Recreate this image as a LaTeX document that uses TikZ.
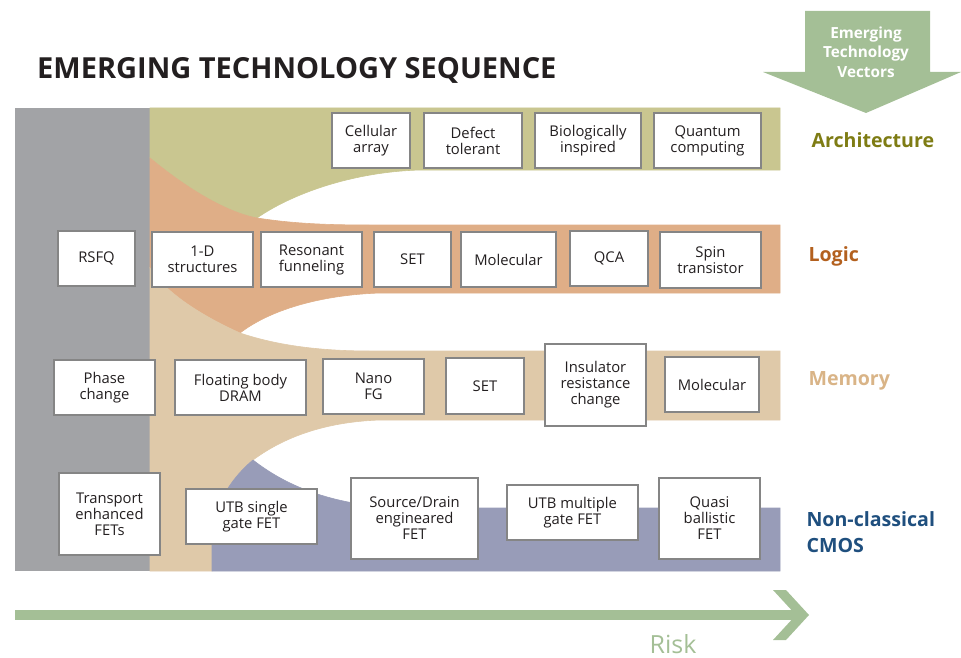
\documentclass[tikz,border=0pt]{standalone}
\usepackage{fontspec}
\setmainfont{Open Sans}
\definecolor{graybl}{HTML}{A2A3A6}
\definecolor{olivebd}{HTML}{C9C690}
\definecolor{orangebd}{HTML}{DFAE87}
\definecolor{tanbd}{HTML}{DFC9A9}
\definecolor{bluebd}{HTML}{989CB8}
\definecolor{greenar}{HTML}{A4BF96}
\definecolor{boxgray}{HTML}{858585}
\definecolor{textdark}{HTML}{231F20}
\definecolor{archc}{HTML}{7E7C14}
\definecolor{logicc}{HTML}{B3601E}
\definecolor{memc}{HTML}{D9B487}
\definecolor{cmosc}{HTML}{1F4F7E}
\begin{document}
\begin{tikzpicture}[x=1pt,y=-1pt,
  box/.style={draw=boxgray, line width=1.1pt, fill=white, inner sep=0pt, align=center,
    font=\fontsize{14.8}{16}\selectfont, text=textdark},
  bandfill/.style={line width=0.6pt},
  lbl/.style={font=\bfseries\fontsize{19.6}{26}\selectfont, anchor=west, align=left}]
\useasboundingbox (0,0) rectangle (961,658);
% title
\node[anchor=base west, inner sep=0pt, text=textdark, font=\bfseries\fontsize{29}{32}\selectfont] (title) at (37,79) {EMERGING TECHNOLOGY SEQUENCE};
% gray column
\fill[graybl] (15,108) rectangle (150,571);
% olive band
\path[fill=olivebd, draw=olivebd, bandfill] (150,108) -- (780,108) -- (780,170) -- (420,170)
  .. controls (350,172) and (290,195) .. (257,218)
  .. controls (225,212) and (185,187) .. (150,158) -- cycle;
% orange band
\path[fill=orangebd, draw=orangebd, bandfill] (150,158) .. controls (185,187) and (225,212) .. (257,218)
  .. controls (290,223) and (320,225) .. (370,225) -- (780,225) -- (780,293) -- (380,293)
  .. controls (320,295) and (270,310) .. (240,333)
  .. controls (200,315) and (165,292) .. (150,268) -- cycle;
% tan band
\path[fill=tanbd, draw=tanbd, bandfill] (150,268) .. controls (165,292) and (200,315) .. (240,333)
  .. controls (270,343) and (310,351) .. (370,351) -- (780,351) -- (780,420) -- (380,420)
  .. controls (320,422) and (280,440) .. (253,460)
  .. controls (235,475) and (215,500) .. (212,535) -- (212,571) -- (150,571) -- cycle;
% blue band
\path[fill=bluebd, draw=bluebd, bandfill] (212,571) -- (212,535)
  .. controls (215,500) and (235,475) .. (253,460)
  .. controls (285,485) and (330,505) .. (400,508) -- (780,508) -- (780,571) -- cycle;
% top-right arrow
\fill[greenar] (805,11) -- (930,11) -- (930,72) -- (961,72) -- (866,113) -- (763,72) -- (805,72) -- cycle;
\node[text=white, align=center, inner sep=0pt, font=\bfseries\fontsize{15.3}{19.5}\selectfont] (vec) at (866,52) {Emerging\\Technology\\Vectors};
% bottom risk arrow
\fill[greenar] (15,610) rectangle (797,620);
\fill[greenar] (773,590) -- (786,590) -- (809,615) -- (786,640) -- (773,640) -- (796,615) -- cycle;
\node[text=greenar, inner sep=0pt, font=\fontsize{25}{28}\selectfont] (risk) at (673,644) {Risk};
% labels
\node[lbl, text=archc] (larch) at (808,140) {Architecture};
\node[lbl, text=logicc] (llogic) at (805,256) {Logic};
\node[lbl, text=memc] (lmem) at (805,381) {Memory};
\node[lbl, text=cmosc] (lcmos) at (803,532) {Non-classical\\CMOS};
% architecture row
\node[box, minimum width=78pt, minimum height=55pt] (a1) at (371,140.5) {Cellular\\array};
\node[box, minimum width=98pt, minimum height=55pt] (a2) at (473,140.5) {Defect\\tolerant};
\node[box, minimum width=106pt, minimum height=55pt] (a3) at (588,140.5) {Biologically\\inspired};
\node[box, minimum width=107pt, minimum height=55pt] (a4) at (707.5,140.5) {Quantum\\computing};
% logic row
\node[box, minimum width=77pt, minimum height=55pt] (l0) at (96.5,258.5) {RSFQ};
\node[box, minimum width=101pt, minimum height=55pt] (l1) at (202.5,259.5) {1-D\\structures};
\node[box, minimum width=101pt, minimum height=55pt] (l2) at (311.5,259.5) {Resonant\\funneling};
\node[box, minimum width=77pt, minimum height=55pt] (l3) at (412.5,259.5) {SET};
\node[box, minimum width=95pt, minimum height=55pt] (l4) at (508.5,259.5) {Molecular};
\node[box, minimum width=78pt, minimum height=55pt] (l5) at (609,258.5) {QCA};
\node[box, minimum width=101pt, minimum height=56pt] (l6) at (710.5,260) {Spin\\transistor};
% memory row
\node[box, minimum width=101pt, minimum height=55pt] (m0) at (104.5,387.5) {Phase\\change};
\node[box, minimum width=131pt, minimum height=55pt] (m1) at (240.5,387.5) {Floating body\\DRAM};
\node[box, minimum width=101pt, minimum height=55pt] (m2) at (373.5,386.5) {Nano\\FG};
\node[box, minimum width=78pt, minimum height=56pt] (m3) at (485,386) {SET};
\node[box, minimum width=101pt, minimum height=82pt] (m4) at (595.5,385) {Insulator\\resistance\\change};
\node[box, minimum width=94pt, minimum height=55pt] (m5) at (712,384.5) {Molecular};
% cmos row
\node[box, minimum width=101pt, minimum height=82pt] (c0) at (109.5,514) {Transport\\enhanced\\FETs};
\node[box, minimum width=131pt, minimum height=55pt] (c1) at (251.5,516.5) {UTB single\\gate FET};
\node[box, minimum width=127pt, minimum height=81pt] (c2) at (414.5,518.5) {Source/Drain\\engineared\\FET};
\node[box, minimum width=131pt, minimum height=55pt] (c3) at (572.5,512.5) {UTB multiple\\gate FET};
\node[box, minimum width=101pt, minimum height=81pt] (c4) at (709.5,518.5) {Quasi\\ballistic\\FET};
\end{tikzpicture}
\end{document}
